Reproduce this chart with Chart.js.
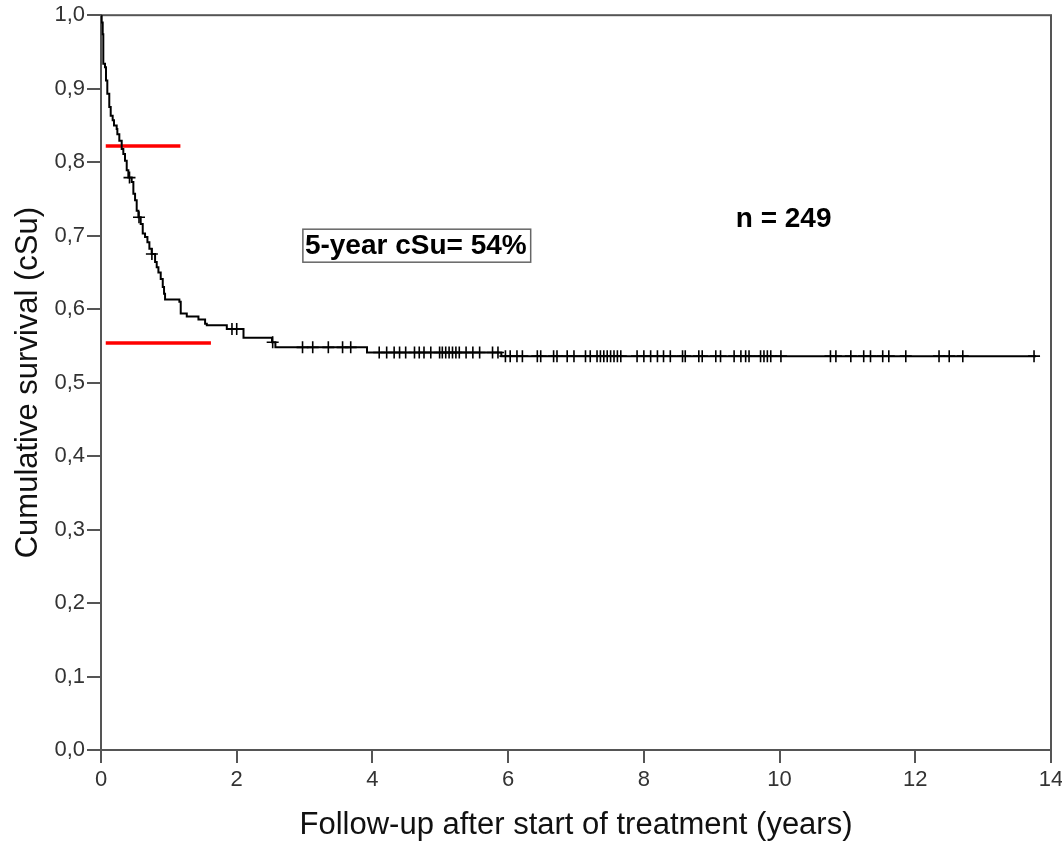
<!DOCTYPE html>
<html>
<head>
<meta charset="utf-8">
<script src="https://cdn.jsdelivr.net/npm/chart.js@4/dist/chart.umd.min.js"></script>
<style>
  body { margin: 0; background: #fff; }
  #wrap { width: 1062px; height: 844px; }
</style>
</head>
<body>
<div id="wrap"><canvas id="kmChart"></canvas></div>
<script>
// Kaplan-Meier curve (years, cumulative survival)
const curveTime = [0, 0.010, 0.025, 0.034, 0.059, 0.074, 0.093, 0.122, 0.143, 0.172, 0.192, 0.231, 0.241, 0.270, 0.305, 0.329, 0.354, 0.379, 0.403, 0.452, 0.477, 0.502, 0.526, 0.551, 0.585, 0.615, 0.649, 0.684, 0.713, 0.747, 0.797, 0.821, 0.846, 0.880, 0.910, 0.929, 0.944, 1.155, 1.175, 1.264, 1.436, 1.534, 1.559, 1.854, 2.10, 2.52, 2.57, 3.92, 5.90, 13.78];
const curveSurv = [1.0, 0.990, 0.974, 0.934, 0.929, 0.911, 0.893, 0.875, 0.863, 0.857, 0.850, 0.845, 0.838, 0.829, 0.818, 0.811, 0.802, 0.789, 0.779, 0.773, 0.757, 0.748, 0.734, 0.725, 0.716, 0.703, 0.698, 0.691, 0.682, 0.675, 0.664, 0.657, 0.650, 0.641, 0.630, 0.621, 0.613, 0.610, 0.594, 0.590, 0.586, 0.580, 0.578, 0.573, 0.561, 0.555, 0.548, 0.541, 0.536, 0.536];

// censored cases (years)
const censorTime = [0.42, 0.56, 0.75, 1.93, 2.0, 2.53, 2.97, 3.12, 3.35, 3.56, 3.68, 4.10, 4.21, 4.32, 4.40, 4.49, 4.62, 4.69, 4.76, 4.86, 4.99, 5.03, 5.08, 5.13, 5.18, 5.23, 5.28, 5.38, 5.48, 5.58, 5.77, 5.85, 5.96, 6.03, 6.13, 6.21, 6.43, 6.48, 6.67, 6.72, 6.87, 6.97, 7.14, 7.21, 7.31, 7.36, 7.41, 7.46, 7.51, 7.56, 7.61, 7.66, 7.90, 8.00, 8.10, 8.20, 8.29, 8.39, 8.57, 8.61, 8.81, 8.86, 9.06, 9.13, 9.33, 9.43, 9.50, 9.55, 9.72, 9.77, 9.82, 9.87, 10.02, 10.75, 10.83, 11.05, 11.24, 11.34, 11.52, 11.61, 11.86, 12.35, 12.50, 12.70, 13.75];

// red reference lines
const refLevel = [0.822, 0.554];
const refStart = [0.07, 0.07];
const refEnd = [1.17, 1.62];

const yTickLabels = ["0,0", "0,1", "0,2", "0,3", "0,4", "0,5", "0,6", "0,7", "0,8", "0,9", "1,0"];
const xTickLabels = ["0", "2", "4", "6", "8", "10", "12", "14"];

const fontFamily = "'Liberation Sans', Arial, sans-serif";
const axisGray = "#555";

// survival level of the step curve at time t
function survAt(t) {
  let s = curveSurv[0];
  for (let i = 0; i < curveTime.length; i++) {
    if (curveTime[i] <= t) s = curveSurv[i];
  }
  return s;
}

const datasets = [{
  label: "Survival",
  data: curveTime.map((t, i) => ({ x: t, y: curveSurv[i] })),
  showLine: true,
  stepped: "before",
  borderColor: "#000",
  borderWidth: 2,
  pointRadius: 0,
  fill: false
}, {
  label: "Censored",
  data: censorTime.map(t => ({ x: t, y: survAt(t) })),
  showLine: false,
  pointStyle: "cross",
  pointRadius: 6,
  pointBorderWidth: 1.6,
  borderColor: "#000",
  backgroundColor: "#000"
}];

refLevel.forEach((lvl, i) => {
  datasets.push({
    label: "ref" + i,
    data: [{ x: refStart[i], y: lvl }, { x: refEnd[i], y: lvl }],
    showLine: true,
    borderColor: "#f00",
    borderWidth: 3.5,
    pointRadius: 0
  });
});

// frame around plot area + text boxes
const framePlugin = {
  id: "frame",
  beforeDatasetsDraw(chart) {
    const { ctx, chartArea: a } = chart;
    ctx.save();
    ctx.strokeStyle = axisGray;
    ctx.lineWidth = 2;
    ctx.strokeRect(a.left, a.top, a.right - a.left, a.bottom - a.top);
    ctx.restore();
  },
  afterDatasetsDraw(chart) {
    const { ctx, scales } = chart;
    ctx.save();
    ctx.fillStyle = "#000";
    ctx.textBaseline = "middle";

    // 5-year box
    ctx.font = "bold 28px " + fontFamily;
    const label = "5-year cSu= 54%";
    const bx = scales.x.getPixelForValue(2.975);
    const by = scales.y.getPixelForValue(0.687);
    const w = ctx.measureText(label).width;
    ctx.fillStyle = "#fff";
    ctx.fillRect(bx, by - 16, w + 6, 33);
    ctx.strokeStyle = "#666";
    ctx.lineWidth = 1.5;
    ctx.strokeRect(bx, by - 16, w + 6, 33);
    ctx.fillStyle = "#000";
    ctx.textAlign = "left";
    ctx.fillText(label, bx + 2, by + 1);

    // n label
    ctx.textAlign = "center";
    ctx.fillText("n = 249", scales.x.getPixelForValue(10.06), scales.y.getPixelForValue(0.722));
    ctx.restore();
  }
};

const ctx = document.getElementById("kmChart").getContext("2d");
new Chart(ctx, {
  type: "scatter",
  data: { datasets },
  plugins: [framePlugin],
  options: {
    responsive: true,
    maintainAspectRatio: false,
    animation: false,
    layout: { padding: { top: 14, right: 11, left: 0, bottom: 0 } },
    plugins: {
      legend: { display: false },
      tooltip: { enabled: false }
    },
    scales: {
      x: {
        type: "linear",
        min: 0,
        max: 14,
        afterFit: s => { s.height = 94; s.paddingRight = 0; s.paddingLeft = 0; },
        afterBuildTicks: s => { s.ticks = xTickLabels.map(v => ({ value: Number(v) })); },
        ticks: {
          color: "#333",
          padding: 4,
          maxRotation: 0,
          font: { family: fontFamily, size: 22 },
          callback: (v, i) => xTickLabels[i]
        },
        grid: { drawOnChartArea: false, color: axisGray, lineWidth: 2, tickLength: 13 },
        border: { color: axisGray, width: 2 },
        title: {
          display: true,
          text: "Follow-up after start of treatment (years)",
          color: "#111",
          padding: { top: 0, bottom: 0 },
          font: { family: fontFamily, size: 31 }
        }
      },
      y: {
        type: "linear",
        min: 0,
        max: 1,
        afterFit: s => { s.width = 101; },
        afterBuildTicks: s => { s.ticks = yTickLabels.map((v, i) => ({ value: i / 10 })); },
        ticks: {
          color: "#333",
          padding: 2,
          font: { family: fontFamily, size: 22 },
          callback: (v, i) => yTickLabels[i]
        },
        grid: { drawOnChartArea: false, color: axisGray, lineWidth: 2, tickLength: 14 },
        border: { color: axisGray, width: 2 },
        title: {
          display: true,
          text: "Cumulative survival (cSu)",
          color: "#111",
          padding: { top: 10, bottom: 0 },
          font: { family: fontFamily, size: 31 }
        }
      }
    }
  }
});
</script>
</body>
</html>
